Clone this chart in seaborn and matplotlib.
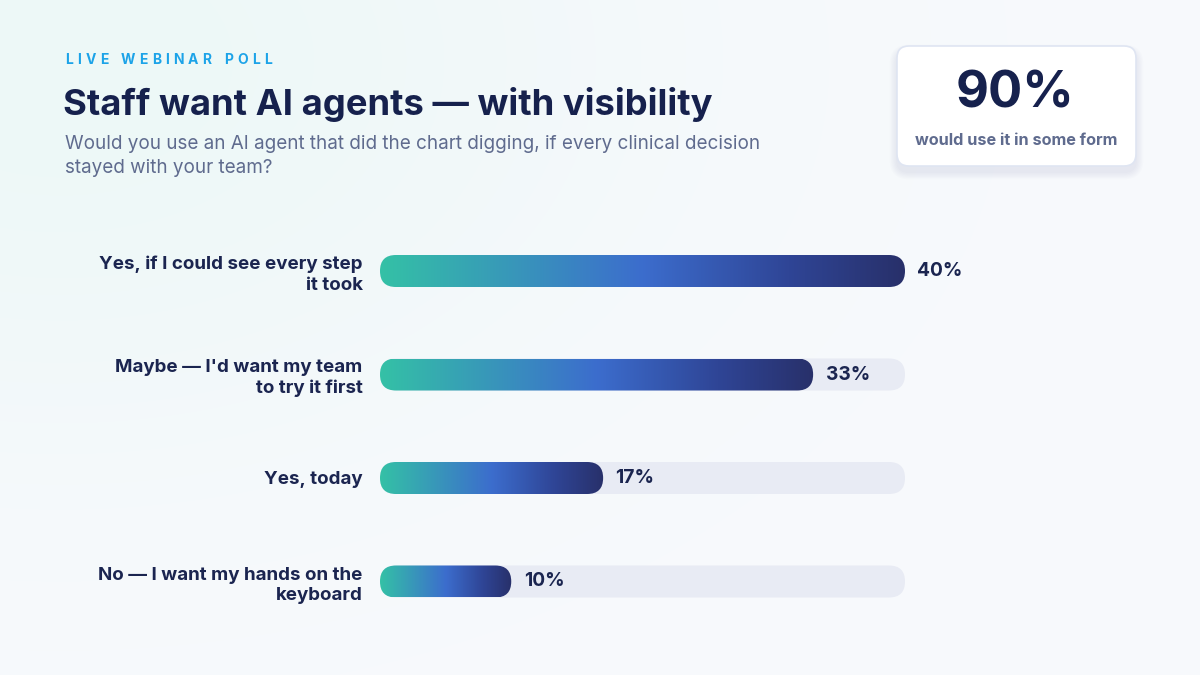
import numpy as np
import pandas as pd
import matplotlib
matplotlib.use("Agg")
import matplotlib.pyplot as plt
import seaborn as sns
from matplotlib.patches import FancyBboxPatch
from matplotlib.colors import LinearSegmentedColormap

# ---------------- data ----------------
categories = [
    "Yes, if I could see every step\nit took",
    "Maybe — I'd want my team\nto try it first",
    "Yes, today",
    "No — I want my hands on the\nkeyboard",
]
values = [40, 33, 17, 10]
value_labels = ["40%", "33%", "17%", "10%"]
track_max = 40

kicker = "LIVE WEBINAR POLL"
title = "Staff want AI agents — with visibility"
subtitle = ("Would you use an AI agent that did the chart digging, if every clinical decision\n"
            "stayed with your team?")
callout_value = "90%"
callout_text = "would use it in some form"

# ---------------- style ----------------
sns.set_theme(style="white")
plt.rcParams['font.family'] = ['Inter', 'DejaVu Sans']

NAVY = "#16214d"
LABEL = "#1b2550"
SUB = "#5f6b8e"
KICK = "#1ca3e8"
TRACK = "#e8ebf4"

W, H = 1200, 675
fig = plt.figure(figsize=(12, 6.75), dpi=100)
renderer = fig.canvas.get_renderer()

# background / overlay axes in pixel units
bg = fig.add_axes([0, 0, 1, 1], zorder=0)
bg.set_xlim(0, W)
bg.set_ylim(H, 0)
bg.set_axis_off()

yy, xx = np.mgrid[0:H:2, 0:W:2]
base = np.array([0.971, 0.979, 0.990])
mint = np.array([0.925, 0.972, 0.968])
d2 = ((xx - 60) / 560.0) ** 2 + ((yy - 60) / 380.0) ** 2
t = np.exp(-d2)[..., None] * 0.9
img = base * (1 - t) + mint * t
bg.imshow(img, extent=[0, W, H, 0], aspect='auto', zorder=0, interpolation='bilinear')

# kicker with letter tracking
kick_target_w = 207
kick_fs = 10
chars = list(kicker)
widths = []
for ch in chars:
    if ch == " ":
        widths.append(None)
        continue
    tt = bg.text(0, 0, ch, fontsize=kick_fs, fontweight='bold')
    widths.append(tt.get_window_extent(renderer).width)
    tt.remove()
letters_w = sum(w for w in widths if w is not None)
n_gaps = len(chars) - 1
space_w = 4.0
tracking = (kick_target_w - letters_w - space_w * chars.count(" ")) / n_gaps
xk = 65
for ch, w in zip(chars, widths):
    if ch == " ":
        xk += space_w + tracking
        continue
    bg.text(xk, 64, ch, fontsize=kick_fs, fontweight='bold', color=KICK,
            ha='left', va='baseline', zorder=5)
    xk += w + tracking

bg.text(63, 115, title, fontsize=26.2, fontweight='bold', color=NAVY,
        ha='left', va='baseline', zorder=5)
bg.text(65, 173, subtitle, fontsize=13.6, color=SUB, ha='left', va='baseline',
        linespacing=1.4, zorder=5)

# callout box with soft shadow
bx, by, bw, bh = 897, 46, 239, 120
for k in range(6):
    e = 2 + k * 2.5
    sh = FancyBboxPatch((bx - e / 2, by + 6 - e / 2), bw + e, bh + e,
                        boxstyle="round,pad=0,rounding_size=%f" % (12 + e / 2),
                        facecolor="#7f8fb8", edgecolor='none', alpha=0.025, zorder=2)
    bg.add_patch(sh)
box = FancyBboxPatch((bx, by), bw, bh, boxstyle="round,pad=0,rounding_size=12",
                     facecolor="white", edgecolor="#dfe5f2", linewidth=1.2, zorder=3)
bg.add_patch(box)
bg.text(bx + bw / 2 - 1, 107, callout_value, fontsize=36.5, fontweight='bold', color=NAVY,
        ha='center', va='baseline', zorder=5)
bg.text(bx + bw / 2, 145, callout_text, fontsize=11.7, fontweight='bold', color=SUB,
        ha='center', va='baseline', zorder=5)

# ---------------- bar chart ----------------
ax_left, ax_right = 380, 905
row_gap = 103.5
c0 = 271
ax_top = c0 - row_gap / 2
ax_h = row_gap * 4
ax = fig.add_axes([ax_left / W, 1 - (ax_top + ax_h) / H, (ax_right - ax_left) / W, ax_h / H],
                  zorder=2)
ax.patch.set_alpha(0)

bar_px = 32
bw_units = bar_px / row_gap
df = pd.DataFrame({"label": categories, "value": values, "track": [track_max] * len(values)})
sns.barplot(data=df, x="track", y="label", color=TRACK, width=bw_units, ax=ax,
            orient='h', saturation=1)
sns.barplot(data=df, x="value", y="label", color="#3b6fd0", width=bw_units, ax=ax,
            orient='h', saturation=1)
ax.set_xlim(0, track_max)
ax.set_ylim(3.5, -0.5)

px_per_x = (ax_right - ax_left) / track_max
mut_aspect = (1 / row_gap) / (1 / px_per_x)
r_units = (bar_px / 2) / px_per_x

cmap = LinearSegmentedColormap.from_list(
    "g", [(0.0, "#34c1a6"), (0.5, "#3c6dcd"), (0.78, "#2f4596"), (1.0, "#28306a")])
grad = np.linspace(0, 1, 256)[None, :]

patches = list(ax.patches)
n = len(values)
for i, p in enumerate(patches):
    x0, y0 = p.get_x(), p.get_y()
    w, h = p.get_width(), p.get_height()
    p.remove()
    if i < n:
        fb = FancyBboxPatch((x0, y0), w, h,
                            boxstyle="round,pad=0,rounding_size=%f" % r_units,
                            mutation_aspect=mut_aspect, facecolor=TRACK,
                            edgecolor='none', zorder=1)
        ax.add_patch(fb)
    else:
        fb = FancyBboxPatch((x0, y0), w, h,
                            boxstyle="round,pad=0,rounding_size=%f" % r_units,
                            mutation_aspect=mut_aspect, facecolor='none',
                            edgecolor='none', zorder=2)
        ax.add_patch(fb)
        im = ax.imshow(grad, cmap=cmap, extent=[x0, x0 + w, y0 + h, y0],
                       aspect='auto', zorder=2, interpolation='bilinear')
        im.set_clip_path(fb)

ax.set_xlim(0, track_max)
ax.set_ylim(3.5, -0.5)

for i, (v, lab) in enumerate(zip(values, value_labels)):
    ax.text(v + 12.5 / px_per_x, i, lab, fontsize=13.8, fontweight='bold', color=LABEL,
            ha='left', va='center', zorder=4)

ax.set_xlabel("")
ax.set_ylabel("")
ax.set_xticks([])
ax.tick_params(axis='y', length=0, pad=12.5)
for tl in ax.get_yticklabels():
    tl.set_fontsize(13.5)
    tl.set_fontweight('bold')
    tl.set_color(LABEL)
    tl.set_linespacing(1.25)
    tl.set_horizontalalignment('right')
for s in ax.spines.values():
    s.set_visible(False)

fig.savefig("out.png", dpi=100)
